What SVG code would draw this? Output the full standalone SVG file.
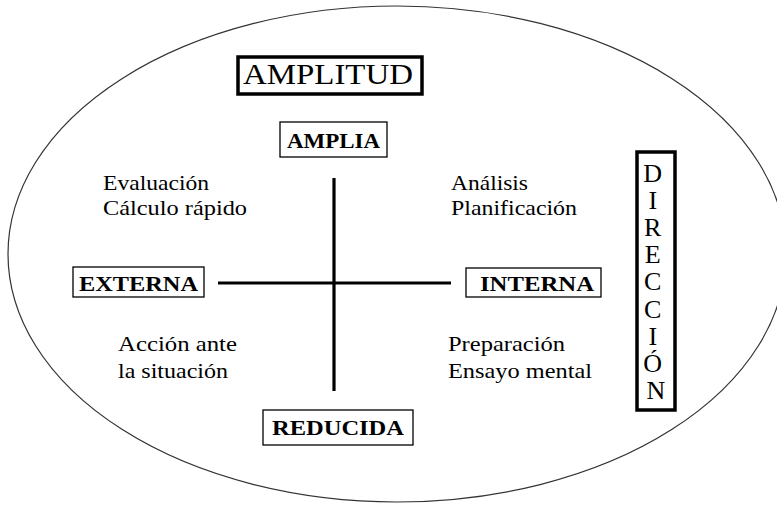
<svg xmlns="http://www.w3.org/2000/svg" width="777" height="506" viewBox="0 0 777 506">
<style>
text{font-family:"Liberation Serif","Times New Roman",serif;fill:#000}
.lbl{font-size:21px}
.bold{font-weight:bold;font-size:20px}
.thin{fill:#fff;stroke:#000;stroke-width:1.3}
.thick{fill:#fff;stroke:#000;stroke-width:3.5}
.axis{stroke:#000;stroke-width:3.2;fill:none}
</style>
<rect width="777" height="506" fill="#fff"/>
<ellipse id="outline" cx="397" cy="254" rx="389" ry="248" fill="none" stroke="#333" stroke-width="1.2"/>
<g id="connectors">
<line class="axis" x1="218" y1="283" x2="451" y2="283"/>
<line class="axis" x1="334" y1="178" x2="334" y2="391"/>
</g>
<g id="amplitud">
<rect class="thick" x="238" y="57" width="184" height="37"/>
<text x="243" y="84" font-size="30" textLength="170" lengthAdjust="spacingAndGlyphs">AMPLITUD</text>
</g>
<g id="amplia">
<rect class="thin" x="280" y="122" width="107" height="35"/>
<text class="bold" x="287" y="148" textLength="93" lengthAdjust="spacingAndGlyphs">AMPLIA</text>
</g>
<g id="externa">
<rect class="thin" x="73" y="267" width="131" height="30"/>
<text class="bold" x="79" y="291" textLength="119" lengthAdjust="spacingAndGlyphs">EXTERNA</text>
</g>
<g id="interna">
<rect class="thin" x="466" y="268" width="135" height="29"/>
<text class="bold" x="480" y="291" textLength="114" lengthAdjust="spacingAndGlyphs">INTERNA</text>
</g>
<g id="reducida">
<rect class="thin" x="263" y="410" width="150" height="35"/>
<text class="bold" x="272" y="435" textLength="132" lengthAdjust="spacingAndGlyphs">REDUCIDA</text>
</g>
<g id="direccion">
<rect class="thick" x="637" y="152" width="38" height="258" stroke-width="3"/>
<text font-size="26" text-anchor="middle">
<tspan x="656" y="182">D</tspan>
<tspan x="656" y="209">I</tspan>
<tspan x="656" y="236">R</tspan>
<tspan x="656" y="263">E</tspan>
<tspan x="656" y="290">C</tspan>
<tspan x="656" y="318">C</tspan>
<tspan x="656" y="345">I</tspan>
<tspan x="656" y="372">Ó</tspan>
<tspan x="656" y="399">N</tspan>
</text>
</g>
<g id="q-top-left">
<text class="lbl" x="103" y="190" textLength="106" lengthAdjust="spacingAndGlyphs">Evaluación</text>
<text class="lbl" x="103" y="215" textLength="144" lengthAdjust="spacingAndGlyphs">Cálculo rápido</text>
</g>
<g id="q-top-right">
<text class="lbl" x="451" y="190" textLength="77" lengthAdjust="spacingAndGlyphs">Análisis</text>
<text class="lbl" x="451" y="215" textLength="126" lengthAdjust="spacingAndGlyphs">Planificación</text>
</g>
<g id="q-bottom-left">
<text class="lbl" x="118" y="351" textLength="119" lengthAdjust="spacingAndGlyphs">Acción ante</text>
<text class="lbl" x="118" y="378" textLength="110" lengthAdjust="spacingAndGlyphs">la situación</text>
</g>
<g id="q-bottom-right">
<text class="lbl" x="448" y="351" textLength="117" lengthAdjust="spacingAndGlyphs">Preparación</text>
<text class="lbl" x="448" y="378" textLength="144" lengthAdjust="spacingAndGlyphs">Ensayo mental</text>
</g>
</svg>
